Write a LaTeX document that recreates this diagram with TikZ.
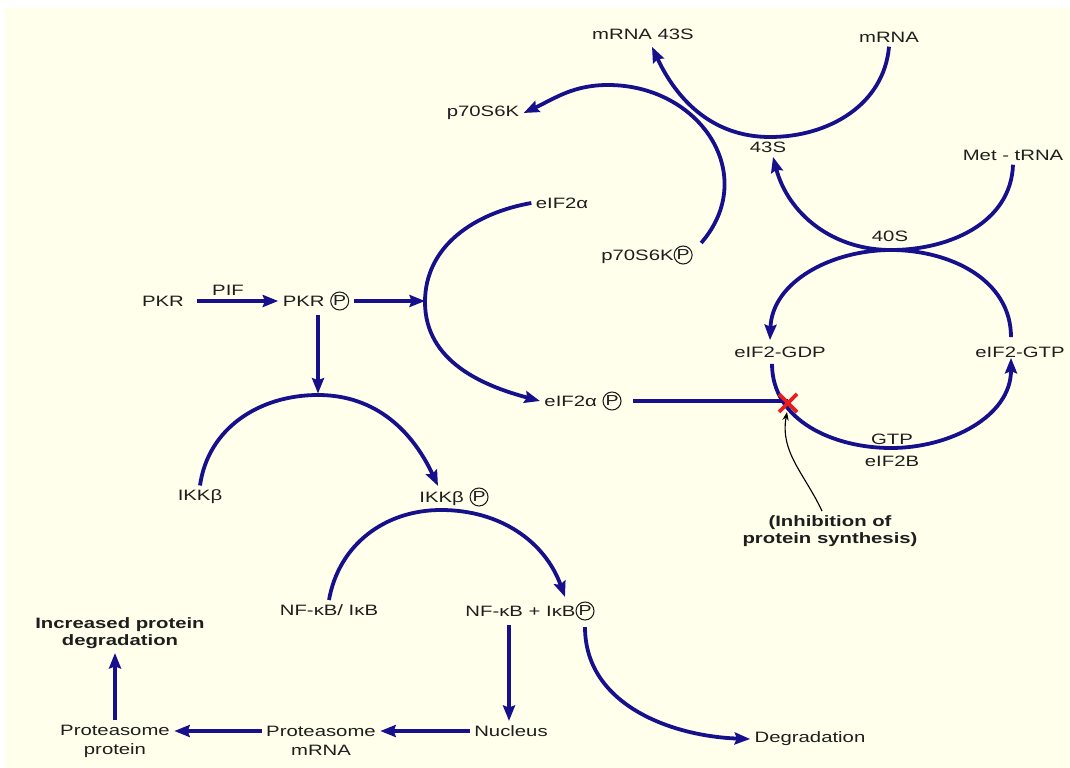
\documentclass[tikz,border=0pt]{standalone}
\usepackage{fontspec}
\setmainfont{Liberation Sans}[FakeStretch=1.35]
\usetikzlibrary{arrows.meta,calc}
\definecolor{bg}{RGB}{255,255,236}
\definecolor{arcc}{RGB}{22,16,140}
\definecolor{txt}{RGB}{30,30,30}
\definecolor{xred}{RGB}{232,30,30}
\newcommand\Pc{\tikz[baseline={([yshift=-3.9pt]pc.center)}]\node[draw=txt,circle,line width=0.75pt,inner sep=0pt,minimum size=12.8pt,text=txt,font=\fontsize{10.3}{10}\selectfont](pc){P};}
\begin{document}
\begin{tikzpicture}[x=0.025cm,y=0.025cm,
  lbl/.style={text=txt,font=\fontsize{10.7}{13.5}\selectfont,inner sep=3pt,align=center},
  boldlbl/.style={lbl,font=\fontsize{10.7}{12}\selectfont\bfseries},
  conn/.style={draw=arcc,line width=2.7pt},
  arr/.style={conn,-{Stealth[length=11pt,width=8.5pt,inset=1.5pt]}},
  inharrow/.style={draw=black,line width=0.8pt,-{Stealth[length=6pt,width=4.5pt]}}]
\fill[white] (0,0) rectangle (1070,-768);
\fill[bg] (5,-8) rectangle (1070,-768);
% nodes
\node[lbl] (m43) at (643,-34) {mRNA 43S};
\node[lbl] (mrna) at (889,-37) {mRNA};
\node[lbl] (p70) at (483,-113) {p70S6K};
\node[lbl] (s43) at (768,-147) {43S};
\node[lbl] (met) at (1013,-155) {Met - tRNA};
\node[lbl] (eif) at (562,-203) {eIF2α};
\node[lbl] (p70P) at (647,-255) {p70S6K\Pc};
\node[lbl] (s40) at (890,-236) {40S};
\node[lbl] (pkr) at (163,-301) {PKR};
\node[lbl] (pif) at (228,-290) {PIF};
\node[lbl] (pkrP) at (316,-301) {PKR \Pc};
\node[lbl] (gdp) at (780,-352) {eIF2-GDP};
\node[lbl] (gtp) at (1020,-352) {eIF2-GTP};
\node[lbl] (eifP) at (583,-401) {eIF2α \Pc};
\node[lbl] (gtpl) at (892,-439) {GTP};
\node[lbl] (eiftwob) at (892,-461) {eIF2B};
\node[boldlbl] (inh) at (830,-531) {(Inhibition of\\protein synthesis)};
\node[lbl] (ikk) at (200,-497) {IKKβ};
\node[lbl] (ikkP) at (454,-497) {IKKβ \Pc};
\node[lbl] (nfi) at (329,-610) {NF-κB/ IκB};
\node[lbl] (nfp) at (530,-611) {NF-κB + IκB\Pc};
\node[boldlbl] (inc) at (120,-633) {Increased protein\\degradation};
\node[lbl] (pp) at (115,-741) {Proteasome\\protein};
\node[lbl] (pm) at (321,-741) {Proteasome\\mRNA};
\node[lbl] (nuc) at (511,-731) {Nucleus};
\node[lbl] (deg) at (810,-739) {Degradation};
% helper coordinates
\coordinate (mb) at (770,-137);
\coordinate (pt) at (608,-85);
\coordinate (c40) at (891,-250);
\coordinate (eb) at (891,-448);
\coordinate (ea) at (425,-302);
\coordinate (it) at (318,-395);
\coordinate (nt) at (441,-510);
\coordinate (X) at (788,-403);
% upper cycles
\draw[arr] (mrna.south) to[out=-95,in=0] (mb) to[out=180,in=-65] ($(m43.south)+(9,-3)$);
\draw[arr] ($(p70P.north east)+(4,-2)$) .. controls (760,-175) and (700,-85) .. (pt) to[out=180,in=25] (p70.east);
\draw[arr] (met.south) to[out=-92,in=0] (c40) to[out=180,in=-75] ($(s43.south)+(5,0)$);
% eIF2 cycle
\draw[arr] (c40) to[out=180,in=88] ($(gdp.north)+(-10,2)$);
\draw[arr] ($(gdp.south)+(-8,-2)$) to[out=-90,in=180] (eb) to[out=0,in=-90] ($(gtp.south)+(-9,4)$);
\draw[conn] ($(gtp.north)+(-9,5)$) to[out=90,in=0] (c40);
% PKR
\draw[arr,shorten <=6pt] (pkr.east) -- (pkrP.west);
\draw[arr] (pkrP.east) -- (pkrP.east -| ea);
\draw[arr] (eif.west) to[out=190,in=90] (ea) to[out=-90,in=165] (eifP.west);
\draw[arr,shorten >=1pt] (pkrP.south -| it) -- (it);
\draw[arr] (ikk.north) to[out=82,in=180] (it) to[out=0,in=115] ($(ikkP.north)+(-16,-3)$);
\draw[arr] (nfi.north) to[out=80,in=180] (nt) to[out=0,in=110] ($(nfp.north)+(35,0)$);
\draw[arr] ($(nfp.south)+(-21,0)$) -- ($(nuc.north)+(-2,0)$);
\draw[arr] (nuc.west) -- (nuc.west -| pm.east);
\draw[arr] (nuc.west -| pm.west) -- (nuc.west -| pp.east);
\draw[arr] (pp.north) -- (pp.north |- inc.south);
\draw[arr] ($(nfp.south)+(55,-2)$) to[out=-90,in=178] (deg.west);
% inhibition
\draw[conn,shorten <=5pt] (eifP.east) -- (eifP.east -| X);
\draw[xred,line width=2.6pt] ($(X)+(-9,9)$) -- ($(X)+(9,-9)$) ($(X)+(-9,-9)$) -- ($(X)+(9,9)$);
\draw[inharrow] ($(inh.north)+(-8,0)$) to[out=115,in=-100] ($(X)+(-1,-9)$);
\end{tikzpicture}
\end{document}
